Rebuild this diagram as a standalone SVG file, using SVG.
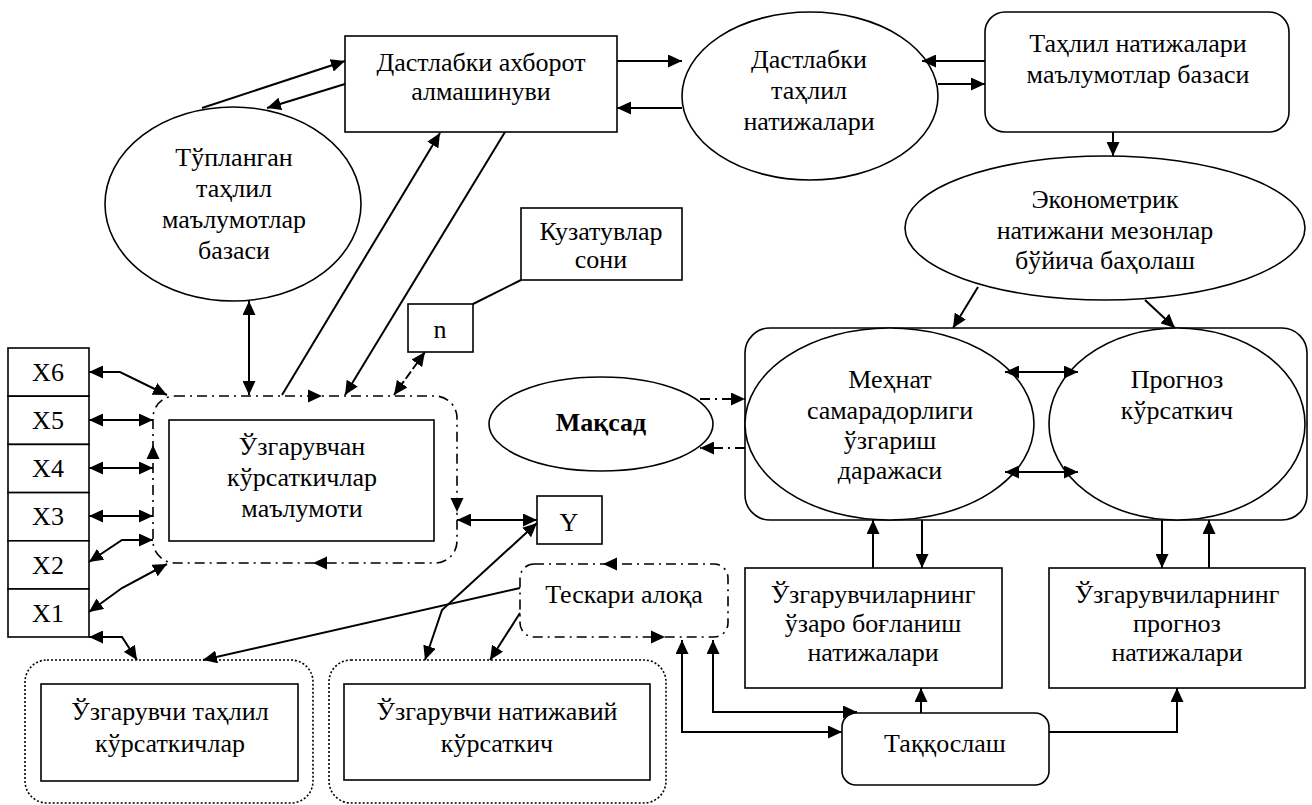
<svg xmlns="http://www.w3.org/2000/svg" width="1312" height="805" viewBox="0 0 1312 805" font-family="'Liberation Serif', 'DejaVu Serif', serif">
<style>
text{font-family:'Liberation Serif','DejaVu Serif',serif;font-size:26px;fill:#000;text-anchor:middle}
.b{font-weight:bold}
.s{fill:#fff;stroke:#000;stroke-width:1.6}
.dd{fill:none;stroke:#000;stroke-width:1.6;stroke-dasharray:10 5 2 5}
.dt{fill:none;stroke:#000;stroke-width:1.6;stroke-dasharray:2 2}
.c{fill:none;stroke:#000;stroke-width:2}
.e{marker-end:url(#ah)}
.bo{marker-end:url(#ah);marker-start:url(#ah)}
.cdd{fill:none;stroke:#000;stroke-width:2;stroke-dasharray:10 5 2 5}
.ah{fill:#000}
</style>
<defs>
<marker id="ah" markerUnits="userSpaceOnUse" markerWidth="14" markerHeight="13" refX="14" refY="6.5" orient="auto-start-reverse">
<path d="M0,0 L14,6.5 L0,13 z" fill="#000"/>
</marker>
</defs>
<rect width="1312" height="805" fill="#fff"/>

<g id="n-dastlabki-axborot">
<rect class="s" x="345" y="36" width="272" height="96"/>
<text x="481" y="71">Дастлабки ахборот</text>
<text x="481" y="100">алмашинуви</text>
</g>
<g id="n-tuplangan">
<ellipse class="s" cx="233" cy="204" rx="128" ry="97"/>
<text x="234" y="166">Тўпланган</text>
<text x="234" y="197">таҳлил</text>
<text x="234" y="228">маълумотлар</text>
<text x="234" y="259">базаси</text>
</g>
<g id="n-dastlabki-tahlil">
<ellipse class="s" cx="810" cy="96" rx="128" ry="84"/>
<text x="809" y="68">Дастлабки</text>
<text x="809" y="99">таҳлил</text>
<text x="809" y="130">натижалари</text>
</g>
<g id="n-tahlil-baza">
<rect class="s" x="985" y="12" width="304" height="120" rx="20"/>
<text x="1138" y="52">Таҳлил натижалари</text>
<text x="1138" y="83">маълумотлар базаси</text>
</g>
<g id="n-ekonometrik">
<ellipse class="s" cx="1105" cy="228" rx="200" ry="72"/>
<text x="1105" y="208">Эконометрик</text>
<text x="1105" y="239">натижани мезонлар</text>
<text x="1105" y="269">бўйича баҳолаш</text>
</g>
<g id="n-kuzatuv">
<rect class="s" x="521" y="208" width="161" height="72"/>
<text x="601" y="240">Кузатувлар</text>
<text x="601" y="268">сони</text>
</g>
<g id="n-n">
<rect class="s" x="408" y="304" width="65" height="48"/>
<text x="440" y="338">n</text>
</g>
<g id="n-x6"><rect class="s" x="8" y="348" width="81" height="48.2"/><text x="48" y="381">X6</text></g>
<g id="n-x5"><rect class="s" x="8" y="396.2" width="81" height="48.2"/><text x="48" y="429">X5</text></g>
<g id="n-x4"><rect class="s" x="8" y="444.4" width="81" height="48.2"/><text x="48" y="477">X4</text></g>
<g id="n-x3"><rect class="s" x="8" y="492.6" width="81" height="48.2"/><text x="48" y="525">X3</text></g>
<g id="n-x2"><rect class="s" x="8" y="540.8" width="81" height="48.2"/><text x="48" y="574">X2</text></g>
<g id="n-x1"><rect class="s" x="8" y="589" width="81" height="48"/><text x="48" y="622">X1</text></g>

<g id="n-uzgaruvchan">
<rect class="dd" x="153" y="396" width="304" height="167" rx="22"/>
<rect class="s" x="169" y="420" width="265" height="121"/>
<text x="302" y="455">Ўзгарувчан</text>
<text x="302" y="486">кўрсаткичлар</text>
<text x="302" y="517">маълумоти</text>
<path class="ah" d="M322,396 l-14,-6.5 l0,13 z"/>
<path class="ah" d="M457,512 l-6.5,-14 l13,0 z"/>
<path class="ah" d="M313,563 l14,-6.5 l0,13 z"/>
<path class="ah" d="M153,445 l-6.5,14 l13,0 z"/>
</g>
<g id="n-y">
<rect class="s" x="537" y="496" width="65" height="48"/>
<text x="569" y="531">Y</text>
</g>
<g id="n-maqsad">
<ellipse class="s" cx="601" cy="424" rx="112" ry="47"/>
<text class="b" x="601" y="431">Мақсад</text>
</g>
<g id="n-natija-group">
<rect class="s" x="745" y="328" width="562" height="192" rx="25"/>
</g>
<g id="n-mehnat">
<ellipse class="s" cx="889.5" cy="424" rx="144.5" ry="96"/>
<text x="890" y="388">Меҳнат</text>
<text x="890" y="419">самарадорлиги</text>
<text x="890" y="449">ўзгариш</text>
<text x="890" y="479">даражаси</text>
</g>
<g id="n-prognoz">
<ellipse class="s" cx="1177" cy="424" rx="128" ry="96"/>
<text x="1177" y="388">Прогноз</text>
<text x="1177" y="419">кўрсаткич</text>
</g>
<g id="n-teskari">
<rect class="dd" x="520" y="564" width="208" height="73" rx="14"/>
<text x="624" y="603">Тескари алоқа</text>
<path class="ah" d="M603,564 l14,-6.5 l0,13 z"/>
<path class="ah" d="M665,637 l-14,-6.5 l0,13 z"/>
</g>
<g id="n-tahlil-kursatkich">
<rect class="dt" x="25" y="660" width="288" height="143" rx="22"/>
<rect class="s" x="41" y="684" width="257" height="97"/>
<text x="170" y="720">Ўзгарувчи таҳлил</text>
<text x="170" y="752">кўрсаткичлар</text>
</g>
<g id="n-natijaviy">
<rect class="dt" x="329" y="660" width="337" height="143" rx="22"/>
<rect class="s" x="344" y="684" width="306" height="96"/>
<text x="497" y="720">Ўзгарувчи натижавий</text>
<text x="497" y="752">кўрсаткич</text>
</g>
<g id="n-uzaro">
<rect class="s" x="745" y="568" width="257" height="120"/>
<text x="873" y="603">Ўзгарувчиларнинг</text>
<text x="873" y="632">ўзаро боғланиш</text>
<text x="873" y="661">натижалари</text>
</g>
<g id="n-prognoz-natija">
<rect class="s" x="1049" y="568" width="256" height="120"/>
<text x="1177" y="603">Ўзгарувчиларнинг</text>
<text x="1177" y="632">прогноз</text>
<text x="1177" y="661">натижалари</text>
</g>
<g id="n-taqqoslash">
<rect class="s" x="842" y="713" width="207" height="72" rx="14"/>
<text x="945" y="752">Таққослаш</text>
</g>

<g id="connectors">
<path class="c e" d="M202,108 L345,61"/>
<path class="c e" d="M345,84 L267,108"/>
<path class="c e" d="M617,61 L682,61"/>
<path class="c e" d="M682,108 L617,108"/>
<path class="c e" d="M985,61 L922,61"/>
<path class="c e" d="M938,84 L985,84"/>
<path class="c e" d="M1113,132 L1113,156"/>
<path class="c e" d="M978,287 L953,328"/>
<path class="c e" d="M1145,300 L1175,328"/>
<path class="c bo" d="M1005,372 L1078,372"/>
<path class="c bo" d="M1005,472 L1078,472"/>
<path class="c e" d="M873,568 L873,520"/>
<path class="c e" d="M922,520 L922,568"/>
<path class="c e" d="M1162,520 L1162,568"/>
<path class="c e" d="M1209,568 L1209,520"/>
<path class="c e" d="M921,713 L921,688"/>
<path class="c e" d="M1049,732 L1177,732 L1177,688"/>
<path class="c bo" d="M682,640 L682,732 L842,732"/>
<path class="c bo" d="M713,640 L713,712 L857,712"/>
<path class="cdd e" d="M700,399 L745,399"/>
<path class="cdd e" d="M745,448 L700,448"/>
<path class="c bo" d="M249,301 L249,395"/>
<path class="c e" d="M282,395 L440,133"/>
<path class="c e" d="M505,132 L345,395"/>
<path class="c" d="M521,280 L473,304"/>
<path class="c bo" d="M425,352 L394,395" stroke-dasharray="9 3"/>
<path class="c bo" d="M89,372 L120,372 L167,395"/>
<path class="c bo" d="M89,420 L153,420"/>
<path class="c bo" d="M89,468 L153,468"/>
<path class="c bo" d="M89,516 L153,516"/>
<path class="c bo" d="M89,562 L122,540 L153,540"/>
<path class="c bo" d="M89,612 L122,588 L167,564"/>
<path class="c bo" d="M89,637 L122,637 L137,660"/>
<path class="c bo" d="M457,520 L537,520"/>
<path class="c bo" d="M537,523 L442,610 L425,660"/>
<path class="c e" d="M520,588 L203,660"/>
<path class="c e" d="M520,613 L490,660"/>
</g>
</svg>
